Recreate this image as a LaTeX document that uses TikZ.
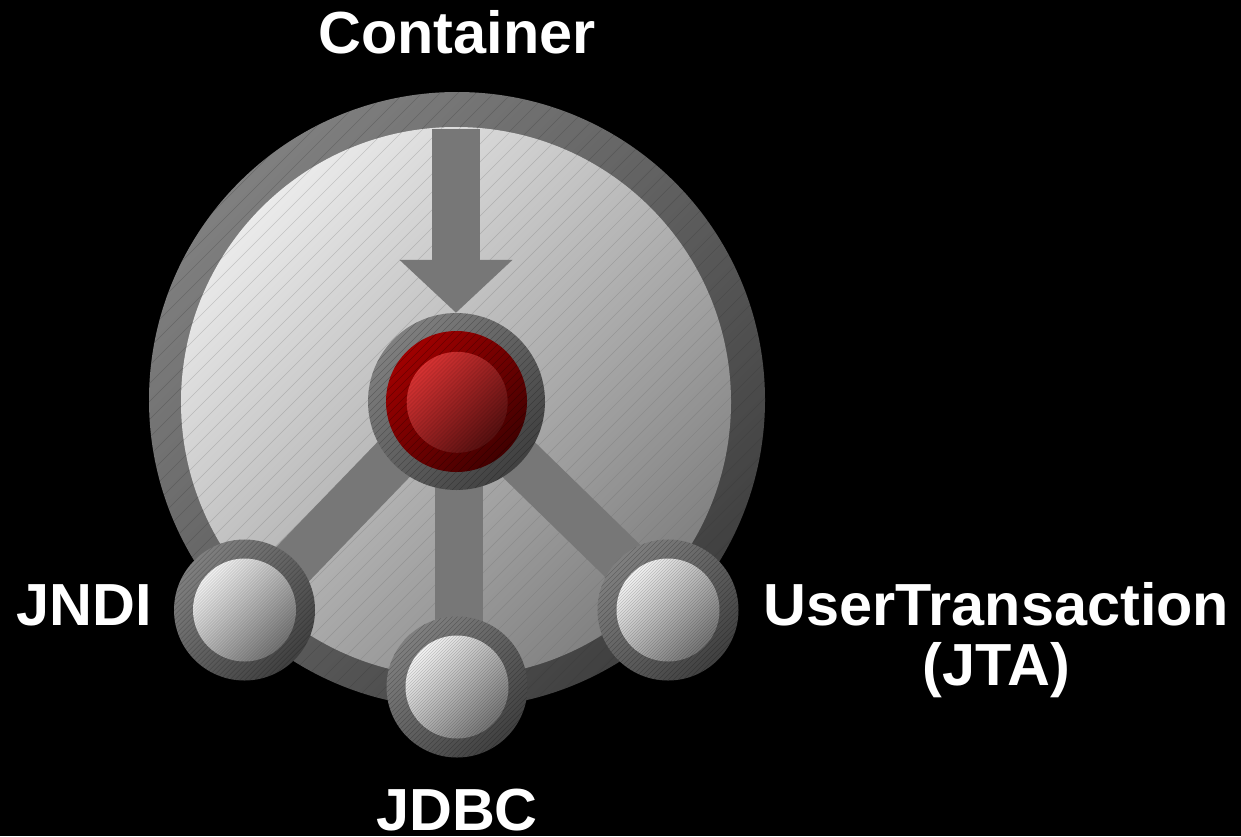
\documentclass[tikz,border=0pt]{standalone}
\usepackage{fontspec}
\setmainfont{Liberation Sans}
\usetikzlibrary{arrows.meta,backgrounds}
\tikzset{
  disc/.style n args={3}{circle,draw=none,inner sep=0pt,minimum size=#1pt,left color=#2,right color=#3,shading angle=45},
  hatched/.style n args={4}{path picture={
     \foreach \k in {-#2,...,#2}{
       \draw[draw=#4,line width=#3pt,opacity=.28,shift={(path picture bounding box.center)}]
         ({\k*#1-400},400) -- ({\k*#1+400},-400);}}},
  textlabel/.style={text=white,font=\bfseries\fontsize{59.4}{60}\selectfont,align=center,inner sep=0pt,anchor=base},
  bar/.style={draw=barc,line width=47.5pt},
  feed/.style={draw=barc,line width=48pt,-{Triangle[length=53pt,width=110pt]}},
}
\definecolor{barc}{gray}{.465}
\definecolor{rimA}{gray}{.50}
\definecolor{rimB}{gray}{.25}
\definecolor{bigA}{gray}{.92}
\definecolor{bigB}{gray}{.50}
\definecolor{ballA}{gray}{.95}
\definecolor{ballB}{gray}{.45}
\definecolor{redA}{RGB}{160,0,0}
\definecolor{redB}{RGB}{65,0,0}
\definecolor{coreA}{RGB}{215,50,50}
\definecolor{coreB}{RGB}{85,15,15}
\begin{document}
\begin{tikzpicture}[x=1pt,y=-1pt]
\useasboundingbox (0,0) rectangle (1241,836);
\begin{pgfonlayer}{background}
\fill[black] (0,0) rectangle (1241,836);
\node[disc={616}{rimA}{rimB},hatched={18}{35}{.6}{black!80}] (rim) at (457,400) {};
\node[disc={550}{bigA}{bigB},hatched={18}{35}{.6}{black!60}] (field) at (456,402) {};
\end{pgfonlayer}
\coordinate (src) at (456,129);
% hub
\node[disc={177}{rimA}{rimB},hatched={7}{30}{.35}{black}] (hub) at (456.5,401.5) {};
\node[disc={141}{redA}{redB},hatched={8}{25}{.5}{black}] (hubred) at (456.5,401.5) {};
\node[disc={101}{coreA}{coreB},hatched={4}{30}{.3}{black}] (hubcore) at (457.2,402.3) {};
% leaves
\foreach \n/\p in {jndi/{244.5,610},jdbc/{457,687},jta/{668,610}}{
  \node[disc={141}{rimA}{rimB},hatched={5}{30}{.35}{black}] (\n) at (\p) {};
  \node[disc={103}{ballA}{ballB},hatched={3}{40}{.3}{black}] (\n ball) at (\p) {};
}
% connectors, under the rings
\begin{pgfonlayer}{background}
\draw[bar] ([xshift=-7pt]hub.center) -- ([yshift=-4pt]jndi.center);
\draw[bar] ([xshift=2.5pt]hub.center) -- ([xshift=2pt]jdbc.center);
\draw[bar] ([yshift=2.5pt]hub.center) -- ([yshift=5pt]jta.center);
\draw[feed] (src) -- (src |- hub.north);
\end{pgfonlayer}
% labels
\node[textlabel] (lc) at (457,53) {Container};
\node[textlabel] (ln) at (84,625) {JNDI};
\node[textlabel] (lb) at (457,830.5) {JDBC};
\node[textlabel] (lt) at (996.5,685.5) {UserTransaction\\(JTA)};
\end{tikzpicture}
\end{document}
